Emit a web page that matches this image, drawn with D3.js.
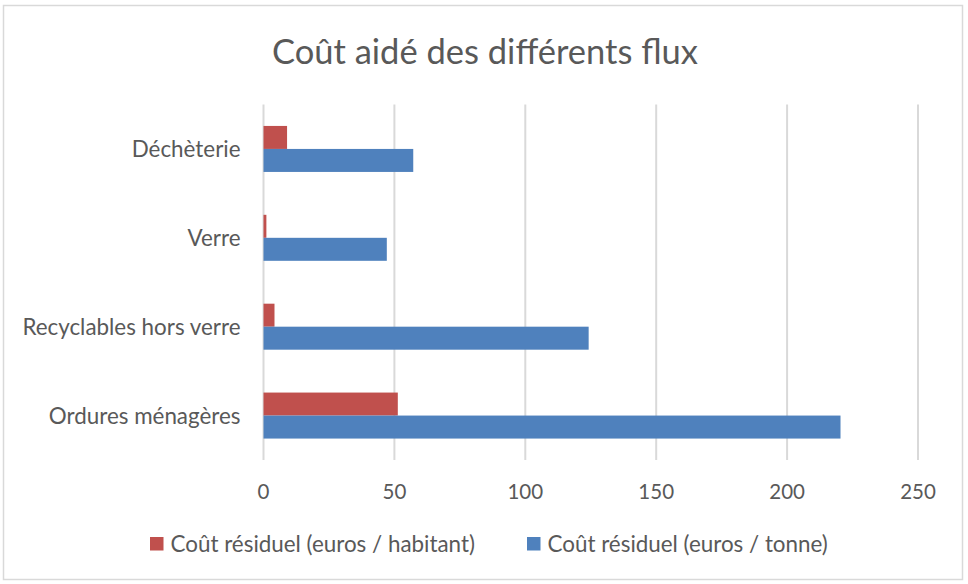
<!DOCTYPE html>
<html>
<head>
<meta charset="utf-8">
<script src="https://cdn.jsdelivr.net/npm/d3@7"></script>
<style>
  body { margin: 0; background: #fff; }
  text { font-family: Lato, "Open Sans", sans-serif; fill: #595959; }
</style>
</head>
<body>
<script>
// data (top to bottom as drawn)
const categories = ["Déchèterie", "Verre", "Recyclables hors verre", "Ordures ménagères"];
const coutHabitant = [9.0, 1.1, 4.2, 51.3];
const coutTonne = [57.2, 47.1, 124.2, 220.4];
const seriesNames = ["Coût résiduel (euros / habitant)", "Coût résiduel (euros / tonne)"];
const colors = ["#C0504D", "#4F81BD"];
const xTicks = [0, 50, 100, 150, 200, 250];
const title = "Coût aidé des différents flux";

const W = 968, H = 584;
const margin = { top: 104.5, left: 263.5 };
const width = 918 - margin.left;
const height = 460 - margin.top;

const svg = d3.select("body").append("svg")
  .attr("width", W)
  .attr("height", H);

// outer frame
svg.append("rect")
  .attr("x", 3.5).attr("y", 5.5)
  .attr("width", 959).attr("height", 574)
  .attr("fill", "#fff")
  .attr("stroke", "#D9D9D9")
  .attr("stroke-width", 1.5);

svg.append("text")
  .attr("x", 485).attr("y", 64)
  .attr("text-anchor", "middle")
  .style("font-size", "34.5px")
  .text(title);

const g = svg.append("g").attr("transform", `translate(${margin.left},${margin.top})`);

const x = d3.scaleLinear().domain([0, 250]).range([0, width]);
const y = d3.scaleBand().domain(categories).range([0, height]);
const inner = d3.scaleBand().domain([0, 1]).range([y.bandwidth() / 2 - 23, y.bandwidth() / 2 + 23]);

// gridlines
g.selectAll(".grid")
  .data(xTicks)
  .enter()
  .append("line")
  .attr("x1", d => x(d)).attr("x2", d => x(d))
  .attr("y1", 0).attr("y2", height)
  .attr("stroke", "#D9D9D9")
  .attr("stroke-width", 2);

// x tick labels
g.selectAll(".xlab")
  .data(xTicks)
  .enter()
  .append("text")
  .attr("x", d => x(d))
  .attr("y", height + 38.5)
  .attr("text-anchor", "middle")
  .style("font-size", "20.5px")
  .text(d => d);

// category labels
g.selectAll(".ylab")
  .data(categories)
  .enter()
  .append("text")
  .attr("x", -23)
  .attr("y", d => y(d) + y.bandwidth() / 2 + 8.3)
  .attr("text-anchor", "end")
  .style("font-size", "22.4px")
  .text(d => d);

const series = [coutHabitant, coutTonne];
series.forEach((vals, s) => {
  g.selectAll(".bar" + s)
    .data(categories)
    .enter()
    .append("rect")
    .attr("x", x(0))
    .attr("y", d => y(d) + inner(s))
    .attr("width", (d, i) => x(vals[i]) - x(0))
    .attr("height", inner.bandwidth())
    .attr("fill", colors[s]);
});

// legend
const legX = [150, 527];
seriesNames.forEach((n, i) => {
  svg.append("rect")
    .attr("x", legX[i]).attr("y", 537)
    .attr("width", 13.5).attr("height", 13.5)
    .attr("fill", colors[i]);
  svg.append("text")
    .attr("x", legX[i] + 20.5).attr("y", 552)
    .style("font-size", "22.4px")
    .text(n);
});
</script>
</body>
</html>
